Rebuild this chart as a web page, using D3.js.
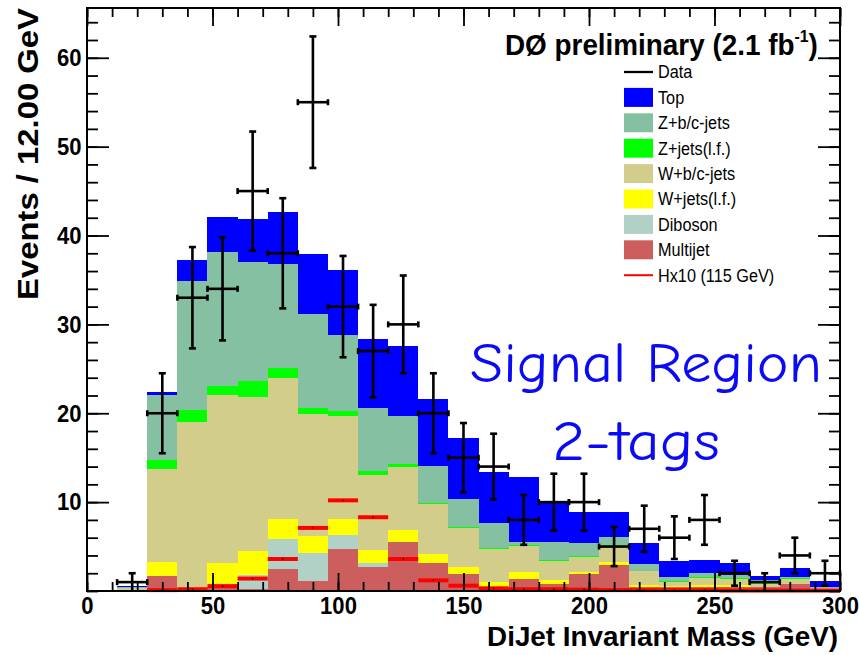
<!DOCTYPE html>
<html>
<head>
<meta charset="utf-8">
<script src="https://cdn.jsdelivr.net/npm/d3@7"></script>
<style>
  body { margin: 0; background: #fff; }
  svg { display: block; }
</style>
</head>
<body>
<svg id="chart" width="859" height="655"></svg>
<script>
// ---- Binning: 12 GeV bins from 0 to 300 GeV (lower edges) ----
const binLow = [0, 12, 24, 36, 48, 60, 72, 84, 96, 108, 120, 132, 144,
                156, 168, 180, 192, 204, 216, 228, 240, 252, 264, 276, 288];
const binWidth = 12;

// ---- Background expectations per bin (events), stacked bottom to top ----
const multijet = [0, 0.05, 1.7, 0, 0.4, 0.2, 2.5, 1.1, 4.7, 2.7, 5.5, 3.2, 1.9,
                  0.3, 1.4, 0.8, 1.9, 2.9, 0.5, 0.4, 0.5, 0.5, 0.4, 0.8, 0.1];
const diboson  = [0, 0, 0, 0, 0, 1.6, 3.3, 3.2, 1.6, 0.5, 0, 0, 0,
                  0, 0, 0, 0, 0, 0, 0, 0, 0, 0, 0, 0];
const wjetsLF  = [0, 0, 1.6, 0.2, 2.7, 2.7, 2.3, 1.9, 1.8, 1.4, 1.4, 1.0, 0.8,
                  0.75, 0.7, 0.4, 0.2, 0.4, 0.2, 0.2, 0.2, 0.2, 0, 0, 0];
const wbcJets  = [0, 0.25, 10.4, 18.8, 18.9, 17.3, 15.9, 13.7, 11.6, 8.5, 7.0, 5.6, 4.4,
                  3.65, 2.95, 2.2, 1.7, 1.7, 1.5, 0.45, 0.8, 0.7, 0.4, 0.6, 0.2];
const zjetsLF  = [0, 0, 1.0, 1.4, 1.1, 1.8, 1.1, 0.7, 0.5, 0.4, 0.4, 0.1, 0.1,
                  0.15, 0.15, 0.1, 0.1, 0.2, 0.1, 0.1, 0.1, 0.1, 0.05, 0.05, 0.05];
const zbcJets  = [0, 0.2, 7.4, 14.5, 15.1, 13.4, 11.7, 10.6, 8.6, 7.1, 5.4, 4.2, 3.2,
                  2.75, 0.3, 2.0, 1.5, 0.9, 0.7, 0.45, 0.46, 0.3, 0.39, 0.15, 0.15];
const topQuark = [0, 0.05, 0.3, 2.3, 3.9, 4.9, 5.8, 6.7, 7.3, 7.8, 7.9, 7.5, 6.8,
                  5.8, 7.3, 4.6, 3.5, 2.8, 2.4, 1.8, 1.44, 1.3, 0.46, 0.95, 0.6];

// ---- Higgs signal (115 GeV) scaled by 10 ----
const higgsX10 = [0, 0, 0.1, 0.2, 0.55, 1.4, 3.6, 7.1, 10.2, 8.3, 3.6, 1.2, 0.6,
                  0.3, 0.2, 0.2, 0.15, 0.1, 0.1, 0.1, 0.1, 0.05, 0.05, 0.05, 0.05];

// ---- Observed data and statistical uncertainty ----
const dataCounts = [0, 1, 20, 33, 34, 45, 38, 55, 32, 27, 30, 20, 15,
                    14, 8, 10, 10, 5, 7, 6, 8, 2, 1, 4, 2];
const dataErrors = [0, 1, 4.5, 5.7, 5.8, 6.7, 6.2, 7.4, 5.7, 5.2, 5.5, 4.5, 3.9,
                    3.7, 2.8, 3.2, 3.2, 2.2, 2.6, 2.4, 2.8, 1.4, 1.0, 2.0, 1.4];

// ---- Axis tick labels ----
const xTickLabels = [0, 50, 100, 150, 200, 250, 300];
const yTickLabels = [10, 20, 30, 40, 50, 60];

// ---- Legend entries (drawn top to bottom) ----
const stackKeys   = ["Multijet", "Diboson", "W+jets(l.f.)", "W+b/c-jets", "Z+jets(l.f.)", "Z+b/c-jets", "Top"];
const stackColors = ["#cd5e5e", "#b1d0c6", "#ffff00", "#d3cd8b", "#00ff00", "#85c0a2", "#0000ff"];
const legendNames = ["Data", "Top", "Z+b/c-jets", "Z+jets(l.f.)", "W+b/c-jets", "W+jets(l.f.)", "Diboson", "Multijet", "Hx10 (115 GeV)"];

// ------------------------------------------------------------------
const svg = d3.select("#chart");
const frame = { left: 87, right: 840, top: 8, bottom: 591 };
const x = d3.scaleLinear().domain([0, 300]).range([frame.left, frame.right]);
const y = d3.scaleLinear().domain([0, 65.6]).range([frame.bottom, frame.top]);
const color = d3.scaleOrdinal().domain(stackKeys).range(stackColors);
const FONT = "'Liberation Sans', Arial, Helvetica, sans-serif";

// Table for the stack layout
const seriesByKey = {
  "Multijet": multijet, "Diboson": diboson, "W+jets(l.f.)": wjetsLF,
  "W+b/c-jets": wbcJets, "Z+jets(l.f.)": zjetsLF, "Z+b/c-jets": zbcJets, "Top": topQuark
};
const rows = binLow.map((b, i) => {
  const r = { bin: b };
  stackKeys.forEach(k => { r[k] = seriesByKey[k][i]; });
  return r;
});
const stacked = d3.stack().keys(stackKeys)(rows);

// Stacked histogram
const gStack = svg.append("g").attr("shape-rendering", "crispEdges");
gStack.selectAll("g.layer")
  .data(stacked)
  .join("g")
  .attr("class", "layer")
  .attr("fill", d => color(d.key))
  .selectAll("rect")
  .data(d => d.filter(p => p[1] - p[0] > 0))
  .join("rect")
  .attr("x", p => x(p.data.bin))
  .attr("width", p => x(p.data.bin + binWidth) - x(p.data.bin))
  .attr("y", p => y(p[1]))
  .attr("height", p => y(p[0]) - y(p[1]));

// Higgs x10 signal: thick horizontal segments with a centre marker
const higgsRows = binLow.map((b, i) => ({ bin: b, v: higgsX10[i] })).filter(d => d.v > 0);
const gHiggs = svg.append("g");
gHiggs.selectAll("line")
  .data(higgsRows)
  .join("line")
  .attr("x1", d => x(d.bin))
  .attr("x2", d => x(d.bin + binWidth))
  .attr("y1", d => y(d.v))
  .attr("y2", d => y(d.v))
  .attr("stroke", "#ff0000")
  .attr("stroke-width", 4);
gHiggs.selectAll("circle")
  .data(higgsRows)
  .join("circle")
  .attr("cx", d => x(d.bin + binWidth / 2))
  .attr("cy", d => y(d.v))
  .attr("r", 0.9)
  .attr("fill", "#3a0000");

// Data points with error bars and end caps
const dataRows = binLow.map((b, i) => ({ bin: b, n: dataCounts[i], e: dataErrors[i] })).filter(d => d.n > 0);
const gData = svg.append("g")
  .attr("stroke", "#000")
  .attr("stroke-width", 2.6)
  .attr("fill", "none");
const capV = 3.5, capH = 3;
dataRows.forEach(d => {
  const cx = x(d.bin + binWidth / 2);
  const xl = x(d.bin), xr = x(d.bin + binWidth);
  const yc = y(d.n);
  const yt = y(d.n + d.e);
  const yb = y(Math.max(0, d.n - d.e));
  const g = gData.append("g");
  g.append("line").attr("x1", cx).attr("x2", cx).attr("y1", yt).attr("y2", yb);
  g.append("line").attr("x1", xl).attr("x2", xr).attr("y1", yc).attr("y2", yc);
  g.append("line").attr("x1", cx - capV).attr("x2", cx + capV).attr("y1", yt).attr("y2", yt);
  if (d.n - d.e > 0) {
    g.append("line").attr("x1", cx - capV).attr("x2", cx + capV).attr("y1", yb).attr("y2", yb);
  }
  g.append("line").attr("x1", xl).attr("x2", xl).attr("y1", yc - capH).attr("y2", yc + capH);
  g.append("line").attr("x1", xr).attr("x2", xr).attr("y1", yc - capH).attr("y2", yc + capH);
});

// ---- Axes: ticks inside the frame on all four sides ----
function styleAxis(g) {
  g.select(".domain").remove();
  g.selectAll(".tick line").attr("stroke", "#000").attr("stroke-width", 1.8);
  g.selectAll("text")
    .attr("font-family", FONT)
    .attr("font-weight", "bold")
    .attr("font-size", 24.5)
    .attr("fill", "#000");
}
const xMinor = d3.range(0, 301, 10);
const yMinor = d3.range(0, 65, 2);

svg.append("g").attr("transform", `translate(0,${frame.bottom})`)
  .call(d3.axisBottom(x).tickValues(xMinor).tickSizeInner(-9).tickSizeOuter(0).tickFormat(""))
  .call(styleAxis);
svg.append("g").attr("transform", `translate(0,${frame.bottom})`)
  .call(d3.axisBottom(x).tickValues(xTickLabels).tickSizeInner(-18).tickSizeOuter(0).tickPadding(6).tickFormat(d3.format("d")))
  .call(styleAxis)
  .call(g => g.selectAll("text").attr("transform", "scale(0.9,1)"));
svg.append("g").attr("transform", `translate(0,${frame.top})`)
  .call(d3.axisTop(x).tickValues(xMinor).tickSizeInner(-9).tickSizeOuter(0).tickFormat(""))
  .call(styleAxis);
svg.append("g").attr("transform", `translate(0,${frame.top})`)
  .call(d3.axisTop(x).tickValues(xTickLabels).tickSizeInner(-18).tickSizeOuter(0).tickFormat(""))
  .call(styleAxis);

svg.append("g").attr("transform", `translate(${frame.left},0)`)
  .call(d3.axisLeft(y).tickValues(yMinor).tickSizeInner(-11).tickSizeOuter(0).tickFormat(""))
  .call(styleAxis);
svg.append("g").attr("transform", `translate(${frame.left},0)`)
  .call(d3.axisLeft(y).tickValues(yTickLabels).tickSizeInner(-22).tickSizeOuter(0).tickPadding(6).tickFormat(d3.format("d")))
  .call(styleAxis)
  .call(g => g.selectAll("text").attr("transform", "scale(0.9,1)"));
svg.append("g").attr("transform", `translate(${frame.right},0)`)
  .call(d3.axisRight(y).tickValues(yMinor).tickSizeInner(-11).tickSizeOuter(0).tickFormat(""))
  .call(styleAxis);
svg.append("g").attr("transform", `translate(${frame.right},0)`)
  .call(d3.axisRight(y).tickValues(yTickLabels).tickSizeInner(-22).tickSizeOuter(0).tickFormat(""))
  .call(styleAxis);

// Frame
svg.append("rect")
  .attr("x", frame.left).attr("y", frame.top)
  .attr("width", frame.right - frame.left).attr("height", frame.bottom - frame.top)
  .attr("fill", "none").attr("stroke", "#000").attr("stroke-width", 2);

// Scale a text element horizontally so that it spans the given width
function fitWidth(textSel, width) {
  const w = textSel.node().getBBox().width;
  textSel.attr("transform", `scale(${width / w},1)`);
}

// Axis titles
const xTitle = svg.append("g").attr("transform", "translate(838,646)")
  .append("text")
  .attr("text-anchor", "end")
  .attr("font-family", FONT).attr("font-weight", "bold").attr("font-size", 28)
  .text("DiJet Invariant Mass (GeV)");
fitWidth(xTitle, 351);

const yTitle = svg.append("g").attr("transform", "translate(38,8) rotate(-90)")
  .append("text")
  .attr("text-anchor", "end")
  .attr("font-family", FONT).attr("font-weight", "bold").attr("font-size", 30)
  .text("Events / 12.00 GeV");
fitWidth(yTitle, 292);

// Experiment label
const head = svg.append("g").attr("transform", "translate(505,55)")
  .append("text")
  .attr("font-family", FONT).attr("font-weight", "bold").attr("font-size", 30);
head.append("tspan").text("DØ preliminary (2.1 fb");
head.append("tspan").attr("font-size", 17).attr("dy", -13).text("-1");
head.append("tspan").attr("dy", 13).text(")");
fitWidth(head, 313);

// Legend
const legend = svg.append("g").attr("transform", "translate(624,0)");
legendNames.forEach((name, i) => {
  const cy = 72 + i * 25.4;
  const row = legend.append("g");
  if (name === "Data") {
    row.append("line").attr("x1", 0).attr("x2", 29).attr("y1", cy).attr("y2", cy)
      .attr("stroke", "#000").attr("stroke-width", 2.3);
  } else if (name.startsWith("Hx10")) {
    row.append("line").attr("x1", 0).attr("x2", 29).attr("y1", cy).attr("y2", cy)
      .attr("stroke", "#ff0000").attr("stroke-width", 2);
  } else {
    row.append("rect").attr("x", 0).attr("y", cy - 9.5).attr("width", 29).attr("height", 19)
      .attr("fill", color(name));
  }
  row.append("g").attr("transform", `translate(34,${cy + 6.3})`)
    .append("text")
    .attr("font-family", FONT).attr("font-size", 17.5).attr("fill", "#000")
    .attr("transform", "scale(0.93,1)")
    .text(name);
});

// Region annotation
const SIGNAL_FONT = "'Comic Sans MS', 'Comic Neue', 'DejaVu Sans', sans-serif";
const note1 = svg.append("g").attr("transform", "translate(470,382)")
  .append("text")
  .attr("font-family", SIGNAL_FONT).attr("font-size", 56).attr("fill", "#0a0af5")
  .text("Signal Region");
fitWidth(note1, 352);
const note2 = svg.append("g").attr("transform", "translate(552,460)")
  .append("text")
  .attr("font-family", SIGNAL_FONT).attr("font-size", 56).attr("fill", "#0a0af5")
  .text("2-tags");
fitWidth(note2, 168);
</script>
</body>
</html>
